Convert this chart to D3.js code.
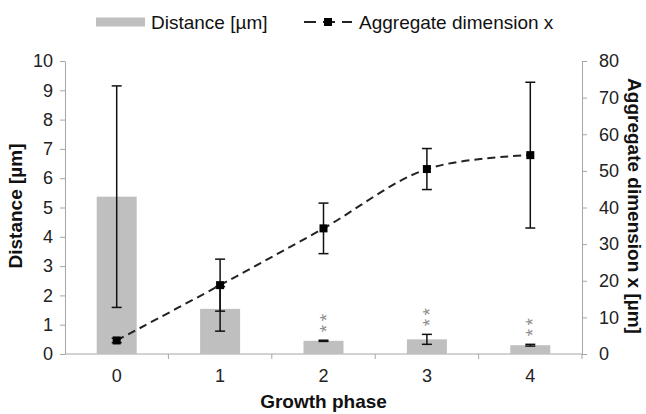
<!DOCTYPE html>
<html>
<head>
<meta charset="utf-8">
<script src="https://cdn.jsdelivr.net/npm/d3@7"></script>
<style>
  body { margin: 0; background: #fff; }
  svg { font-family: "Liberation Sans", Arial, sans-serif; }
  .axis text { font-size: 18px; fill: #222; }
  .axis path, .axis line { stroke: #a6a6a6; }
  .title { font-weight: bold; fill: #111; font-size: 19px; }
</style>
</head>
<body>
<script>
// data
var phases = ["0", "1", "2", "3", "4"],
    distance = [5.37, 1.54, 0.45, 0.5, 0.3],
    distanceErr = [3.78, 0.76, 0.02, 0.17, 0.03],
    aggregate = [3.7, 18.8, 34.3, 50.5, 54.3],
    aggregateErr = [0.6, 7.1, 6.9, 5.6, 19.9],
    stars = [null, null, "**", "**", "**"],
    leftTicks = d3.range(0, 11),
    rightTicks = d3.range(0, 81, 10);

var W = 646, H = 414,
    m = { t: 61, r: 64, b: 60, l: 65 },
    w = W - m.l - m.r,
    h = H - m.t - m.b;

var svg = d3.select("body").append("svg")
    .attr("width", W)
    .attr("height", H);

var g = svg.append("g")
    .attr("transform", "translate(" + m.l + "," + m.t + ")");

var x = d3.scaleBand().domain(phases).range([0, w]),
    yL = d3.scaleLinear().domain([0, 10]).range([h, 0]),
    yR = d3.scaleLinear().domain([0, 80]).range([h, 0]);

// axes
g.append("g")
    .attr("class", "axis")
    .call(d3.axisLeft(yL).tickValues(leftTicks).tickSize(5).tickPadding(7).tickSizeOuter(0));

g.append("g")
    .attr("class", "axis")
    .attr("transform", "translate(" + w + ",0)")
    .call(d3.axisRight(yR).tickValues(rightTicks).tickSize(5).tickPadding(12).tickSizeOuter(0));

var xAxis = g.append("g")
    .attr("class", "axis")
    .attr("transform", "translate(0," + h + ")")
    .call(d3.axisBottom(x).tickSize(0).tickPadding(15));
xAxis.select(".domain").remove();
xAxis.append("line")
    .attr("x1", 0).attr("x2", w)
    .attr("stroke", "#a6a6a6");
xAxis.selectAll(".sep")
    .data(phases)
  .enter().append("line")
    .attr("x1", function(d) { return x(d) + x.bandwidth(); })
    .attr("x2", function(d) { return x(d) + x.bandwidth(); })
    .attr("y1", 0).attr("y2", 5)
    .attr("stroke", "#a6a6a6");

// bars
var bw = 40;
g.selectAll(".bar")
    .data(distance)
  .enter().append("rect")
    .attr("class", "bar")
    .attr("x", function(d, i) { return x(phases[i]) + x.bandwidth() / 2 - bw / 2; })
    .attr("width", bw)
    .attr("y", function(d) { return yL(d); })
    .attr("height", function(d) { return h - yL(d); })
    .attr("fill", "#bfbfbf");

function errBars(vals, errs, scale) {
  var eg = g.append("g").attr("stroke", "#111").attr("stroke-width", 1.5);
  vals.forEach(function(v, i) {
    var cx = x(phases[i]) + x.bandwidth() / 2,
        top = scale(v + errs[i]),
        bot = scale(Math.max(0, v - errs[i]));
    eg.append("line").attr("x1", cx).attr("x2", cx).attr("y1", top).attr("y2", bot);
    eg.append("line").attr("x1", cx - 5).attr("x2", cx + 5).attr("y1", top).attr("y2", top);
    eg.append("line").attr("x1", cx - 5).attr("x2", cx + 5).attr("y1", bot).attr("y2", bot);
  });
}
errBars(distance, distanceErr, yL);

// significance stars: "**" turned upright so the two asterisks stack
stars.forEach(function(s, i) {
  if (!s) return;
  var cx = x(phases[i]) + x.bandwidth() / 2,
      base = yL(distance[i] + distanceErr[i]) - 8;
  g.append("text")
      .attr("transform", "translate(" + (cx + 9) + "," + base + ") rotate(-90)")
      .attr("font-size", 19)
      .attr("letter-spacing", 3.5)
      .attr("fill", "#8c8c8c")
      .text(s);
});

// line series
var line = d3.line()
    .x(function(d, i) { return x(phases[i]) + x.bandwidth() / 2; })
    .y(function(d) { return yR(d); })
    .curve(d3.curveCatmullRom.alpha(0.5));

g.append("path")
    .datum(aggregate)
    .attr("d", line)
    .attr("fill", "none")
    .attr("stroke", "#222")
    .attr("stroke-width", 2)
    .attr("stroke-dasharray", "8,5");

errBars(aggregate, aggregateErr, yR);

g.selectAll(".pt")
    .data(aggregate)
  .enter().append("rect")
    .attr("x", function(d, i) { return x(phases[i]) + x.bandwidth() / 2 - 4; })
    .attr("y", function(d) { return yR(d) - 4; })
    .attr("width", 8).attr("height", 8)
    .attr("fill", "#000");

// axis titles
svg.append("text")
    .attr("class", "title")
    .attr("transform", "translate(22,206) rotate(-90)")
    .attr("text-anchor", "middle")
    .text("Distance  [µm]");

svg.append("text")
    .attr("class", "title")
    .attr("transform", "translate(628,206) rotate(90)")
    .attr("text-anchor", "middle")
    .text("Aggregate dimension x [µm]");

svg.append("text")
    .attr("class", "title")
    .attr("x", m.l + w / 2)
    .attr("y", 408)
    .attr("text-anchor", "middle")
    .text("Growth phase");

// legend
var lg = svg.append("g").attr("transform", "translate(0,22)");
lg.append("rect").attr("x", 96).attr("y", -4.5).attr("width", 49).attr("height", 9).attr("fill", "#bfbfbf");
lg.append("text").attr("x", 151).attr("y", 6.5).attr("font-size", 19).attr("fill", "#111").text("Distance [µm]");
lg.append("line").attr("x1", 304).attr("x2", 352).attr("y1", 0).attr("y2", 0)
    .attr("stroke", "#222").attr("stroke-width", 2).attr("stroke-dasharray", "12,7");
lg.append("rect").attr("x", 324).attr("y", -4).attr("width", 8).attr("height", 8).attr("fill", "#000");
lg.append("text").attr("x", 359).attr("y", 6.5).attr("font-size", 19).attr("fill", "#111").text("Aggregate dimension x");
</script>
</body>
</html>
